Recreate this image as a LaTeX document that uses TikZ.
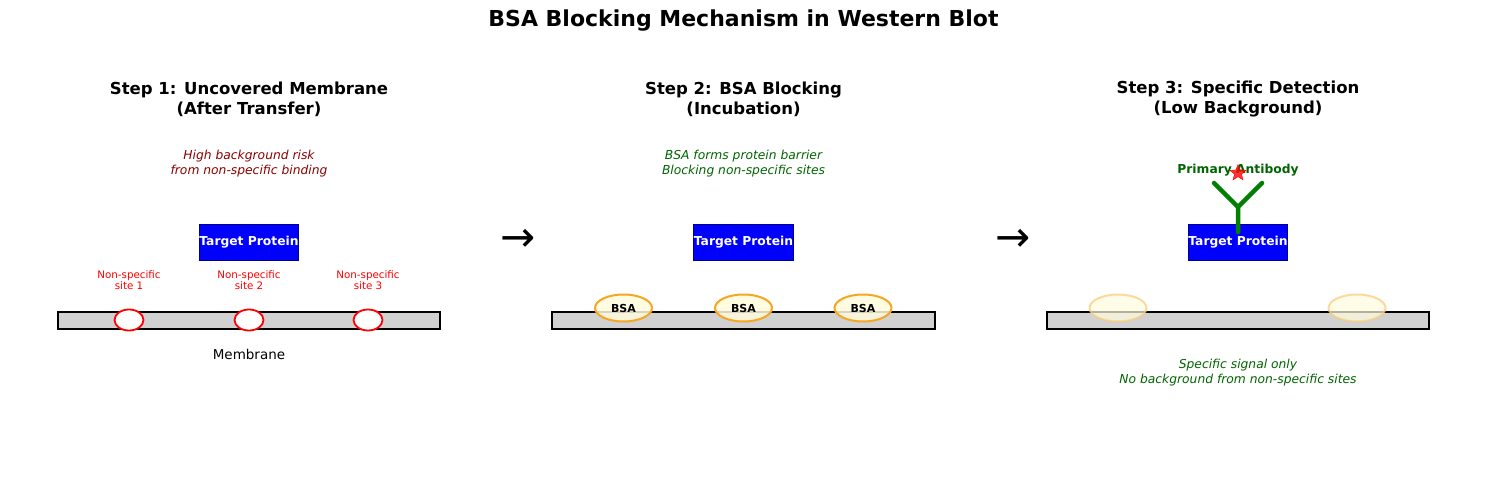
\documentclass[tikz,border=0pt]{standalone}
\usepackage{fontspec}
\setmainfont{DejaVu Sans}
\usetikzlibrary{shapes.geometric}
\definecolor{dred}{HTML}{8B0000}
\definecolor{dgreen}{HTML}{006400}
\definecolor{bsaf}{HTML}{FFFBDD}
\definecolor{bsad}{HTML}{F5A623}
\begin{document}
\begin{tikzpicture}[x=1pt,y=-1pt,
  mem/.style={draw=black,line width=2pt,fill=black!18},
  tp/.style={draw=blue!55!black,line width=1pt,fill=blue,minimum width=96pt,minimum height=35pt,inner sep=0pt,text=white,font=\bfseries\fontsize{12.3}{14}\selectfont},
  site/.style={ellipse,draw=red,line width=1.8pt,fill=white,minimum width=29pt,minimum height=21pt,inner sep=0pt},
  bsa/.style={ellipse,draw=bsad,line width=2pt,fill=bsaf,fill opacity=0.85,text opacity=1,minimum width=57pt,minimum height=27pt,inner sep=0pt,font=\bfseries\fontsize{11}{12}\selectfont},
  faint/.style={ellipse,draw=bsad!60,line width=2pt,fill=bsaf,fill opacity=0.7,draw opacity=0.7,minimum width=57pt,minimum height=27pt,inner sep=0pt},
  steptitle/.style={font=\bfseries\fontsize{16.5}{20}\selectfont,align=center},
  note/.style={font=\itshape\fontsize{12.3}{15}\selectfont,align=center},
  small/.style={font=\fontsize{10.3}{11.5}\selectfont,align=center,text=red},
  arr/.style={font=\fontsize{42}{44}\selectfont}]
\useasboundingbox (0,0) rectangle (1487,478);
\node[font=\bfseries\fontsize{22}{26}\selectfont] (title) at (743.5,21) {BSA Blocking Mechanism in Western Blot};
% Step 1
\node[steptitle] (t1) at (249,99) {Step 1: Uncovered Membrane\\(After Transfer)};
\node[note,text=dred] (n1) at (249,164) {High background risk\\from non-specific binding};
\draw[mem] (58,312) rectangle (440,329);
\node[tp] (p1) at (249,242.5) {\raisebox{3pt}{Target Protein}};
\foreach \x/\i in {129/1,249/2,368/3}{
  \node[site] (s\i) at (\x,320) {};
  \node[small] (l\i) at (\x,280) {Non-specific\\site \i};
}
\node[font=\fontsize{13.5}{15}\selectfont] (m1) at (249,354) {Membrane};
\node[arr] (a1) at (518,240) {→};
% Step 2
\node[steptitle] (t2) at (743.5,99) {Step 2: BSA Blocking\\(Incubation)};
\node[note,text=dgreen] (n2) at (743.5,164) {BSA forms protein barrier\\Blocking non-specific sites};
\draw[mem] (552,312) rectangle (935,329);
\node[tp] (p2) at (743.5,242.5) {\raisebox{3pt}{Target Protein}};
\foreach \x/\i in {623.5/1,743.5/2,863/3}{\node[bsa] (b\i) at (\x,308) {BSA};}
\node[arr] (a2) at (1013,240) {→};
% Step 3
\node[steptitle] (t3) at (1238,99) {Step 3: Specific Detection\\(Low Background)};
\draw[mem] (1047,312) rectangle (1429,329);
\node[faint] (f1) at (1118,308) {};
\node[faint] (f2) at (1357,308) {};
\node[tp] (p3) at (1238,242.5) {\raisebox{3pt}{Target Protein}};
\coordinate (base) at (1238,232);
\coordinate (fork) at (1238,207);
\coordinate (la) at (1214,183);
\coordinate (ra) at (1262,183);
\draw[green!50!black,line width=4.5pt,line cap=round,line join=round] (base) -- (fork) (la) -- (fork) -- (ra);
\node[font=\bfseries\fontsize{12.3}{14}\selectfont,text=dgreen] (ab) at (1238,170) {Primary Antibody};
\node[star,star points=5,star point ratio=2.3,fill=red,fill opacity=0.8,draw=red,minimum size=17pt,inner sep=0pt] (st) at (1238,173) {};
\node[note,text=dgreen] (n3) at (1238,373) {Specific signal only\\No background from non-specific sites};
\end{tikzpicture}
\end{document}
